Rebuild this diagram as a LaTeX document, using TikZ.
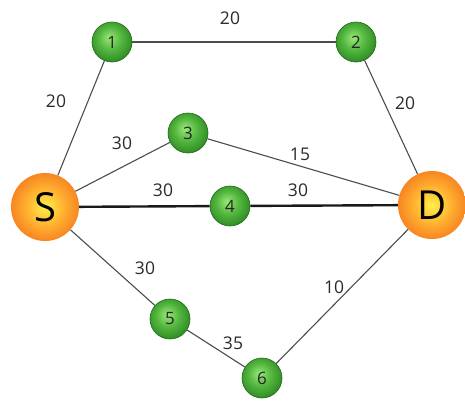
\documentclass[tikz,border=0pt]{standalone}
\usepackage{fontspec}
\setmainfont{Open Sans}
\definecolor{gA}{HTML}{9AE878}
\definecolor{gB}{HTML}{55B840}
\definecolor{gC}{HTML}{2A8520}
\definecolor{gline}{HTML}{1E6A19}
\definecolor{oA}{HTML}{FFF04A}
\definecolor{oB}{HTML}{FFB030}
\definecolor{oC}{HTML}{F57A1E}
\definecolor{txt}{HTML}{2A2A2A}
\pgfdeclareradialshading{greenball}{\pgfpoint{-4bp}{6bp}}{color(0bp)=(gA); color(14bp)=(gB); color(30bp)=(gC); color(50bp)=(gC)}
\pgfdeclareradialshading{orangeball}{\pgfpoint{0bp}{0bp}}{color(0bp)=(oA); color(14bp)=(oB); color(28bp)=(oC); color(50bp)=(oC)}
\begin{document}
\begin{tikzpicture}[x=1pt,y=-1pt,
  gnode/.style={circle, minimum size=40pt, inner sep=0pt, shading=greenball, draw=gline, line width=0.6pt, font=\fontsize{17}{17}\selectfont, text=black!85},
  onode/.style={circle, minimum size=68pt, inner sep=0pt, shading=orangeball, font=\fontsize{40}{40}\selectfont, text=black},
  edge/.style={draw=black!70, line width=1.1pt},
  bold/.style={draw=black!90, line width=2.4pt},
  lbl/.style={font=\fontsize{17.5}{17.5}\selectfont, text=txt, inner sep=0pt}]
\useasboundingbox (0,0) rectangle (465,400);
\node[onode] (S) at (45,207) {S};
\node[onode] (D) at (432,205) {D};
\node[gnode] (n1) at (112,42) {1};
\node[gnode] (n2) at (356,42) {2};
\node[gnode] (n3) at (188,133) {3};
\node[gnode] (n4) at (230,206) {4};
\node[gnode] (n5) at (170,319) {5};
\node[gnode] (n6) at (262,378) {6};
\path[edge] (S) -- (n1);
\path[edge] (n1) -- (n2);
\path[edge] (n2) -- (D);
\path[edge] (S) -- (n3);
\path[edge] (n3) -- (D);
\path[bold] (S) -- (n4);
\path[bold] (n4) -- (D);
\path[edge] (S) -- (n5);
\path[edge] (n5) -- (n6);
\path[edge] (n6) -- (D);
\node[lbl] (l12) at (230,18) {20};
\node[lbl] (lS1) at (56,101) {20};
\node[lbl] (lS3) at (122,143) {30};
\node[lbl] (l3D) at (300,154) {15};
\node[lbl] (l2D) at (405,103) {20};
\node[lbl] (lS4) at (163,190) {30};
\node[lbl] (l4D) at (298,190) {30};
\node[lbl] (lS5) at (145,268) {30};
\node[lbl] (l56) at (233,343) {35};
\node[lbl] (l6D) at (334,287) {10};
\end{tikzpicture}
\end{document}
